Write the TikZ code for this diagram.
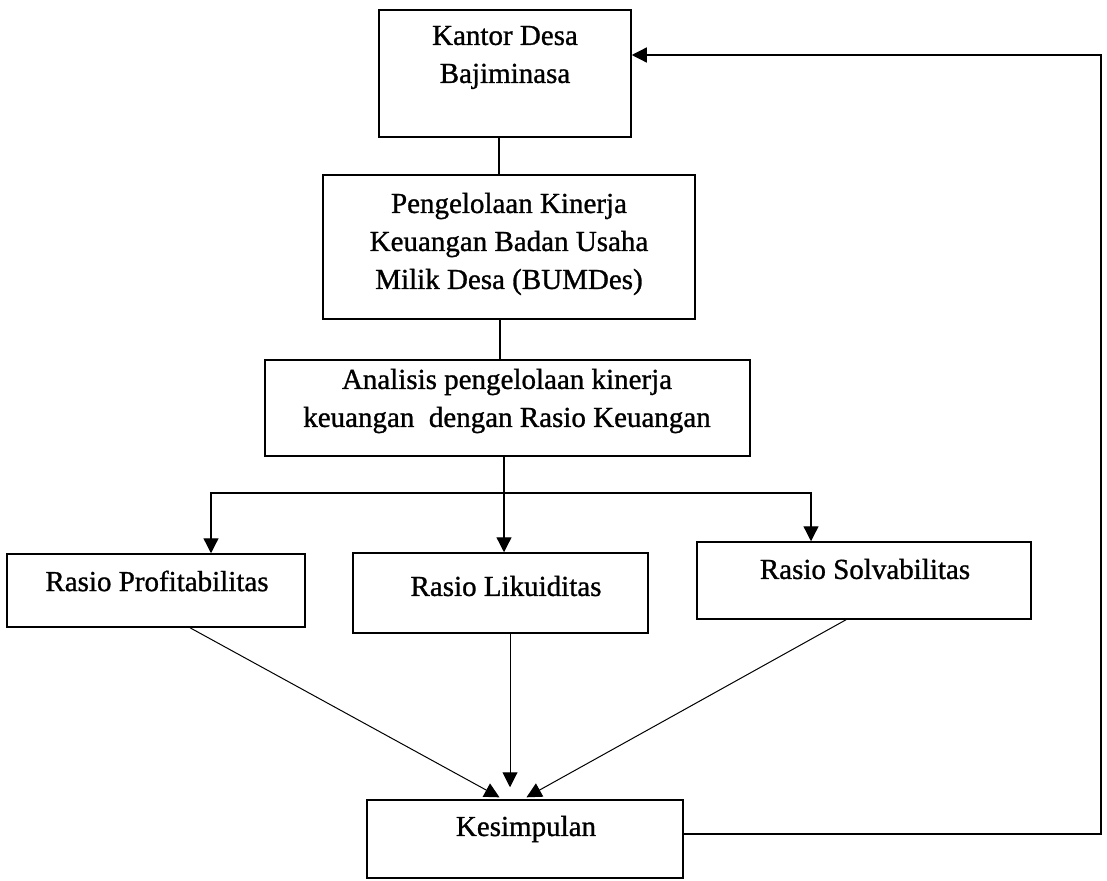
\documentclass[tikz,border=0pt]{standalone}
\usepackage{fontspec}
\setmainfont{Liberation Serif}
\newfontfamily\scanfont{Liberation Serif}[FakeBold=1]
\usetikzlibrary{arrows.meta,calc}
\begin{document}
\begin{tikzpicture}[x=1pt,y=-1pt,
  box/.style={draw, line width=1.5pt, inner sep=0pt},
  txt/.style={font=\scanfont\fontsize{29}{38}\selectfont, align=center, inner sep=0pt},
  ln/.style={line width=1.3pt},
  arr/.style={line width=1.3pt, -{Triangle[length=15pt,width=15pt]}},
  darr/.style={line width=1pt, -{Triangle[length=15pt,width=15pt]}}]
\useasboundingbox (0,0) rectangle (1107,880);
% boxes
\node[box, minimum width=252pt, minimum height=127pt] (k) at (505,73.5) {};
\node[box, minimum width=372pt, minimum height=144pt] (p) at (509,247) {};
\node[box, minimum width=485pt, minimum height=96pt] (a) at (507.5,408) {};
\node[box, minimum width=298pt, minimum height=73pt] (rp) at (156,590.5) {};
\node[box, minimum width=295pt, minimum height=80pt] (rl) at (500.5,593) {};
\node[box, minimum width=334pt, minimum height=77pt] (rs) at (864,580.5) {};
\node[box, minimum width=316pt, minimum height=78pt] (ks) at (525,839) {};
% texts
\node[txt] (tk) at (505,57.5) {Kantor Desa\\Bajiminasa};
\node[txt] (tp) at (509,244) {Pengelolaan Kinerja\\Keuangan Badan Usaha\\Milik Desa (BUMDes)};
\node[txt] (ta) at (507,401) {Analisis pengelolaan kinerja\\keuangan\ \ dengan Rasio Keuangan};
\node[txt] (trp) at (157,581) {Rasio Profitabilitas};
\node[txt] (trl) at (506,586) {Rasio Likuiditas};
\node[txt] (trs) at (865,569) {Rasio Solvabilitas};
\node[txt] (tks) at (526,829) {Kesimpulan};
% connectors
\draw[ln] ([xshift=-6pt]k.south) -- ([xshift=-6pt]k.south |- p.north);
\draw[ln] ([xshift=-9pt]p.south) -- ([xshift=-9pt]p.south |- a.north);
\coordinate (br) at (504,493);
\draw[ln] ([xshift=-3.5pt]a.south) -- (br);
\draw[arr] (br) -| ([xshift=55pt]rp.north);
\draw[arr] (br) -- (br |- rl.north);
\draw[arr] (br) -| ([xshift=-53pt]rs.north);
\draw[darr, shorten >=4pt] ([xshift=34pt]rp.south) -- ([xshift=-22pt]ks.north);
\draw[darr, shorten >=12pt] ([xshift=9.5pt]rl.south) -- ([xshift=-15pt]ks.north);
\draw[darr, shorten >=4pt] ([xshift=-18pt]rs.south) -- ([xshift=-2pt]ks.north);
\coordinate (c1) at (1101,834);
\coordinate (c2) at (1101,55);
\draw[arr] ([yshift=5pt]ks.east) -- (c1) -- (c2) -- ([yshift=18.5pt]k.east);
\end{tikzpicture}
\end{document}
